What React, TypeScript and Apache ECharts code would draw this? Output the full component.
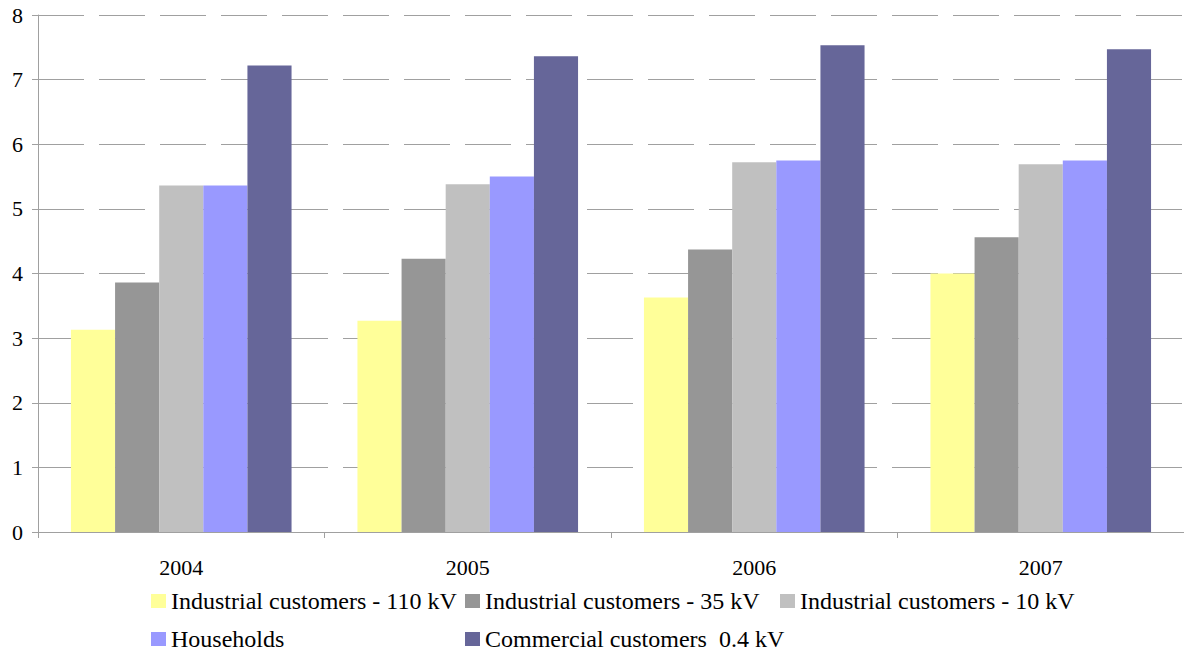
import React, { useEffect, useRef } from "react";
import * as echarts from "echarts";

const years = ["2004", "2005", "2006", "2007"];
const seriesNames = [
  "Industrial customers - 110 kV",
  "Industrial customers - 35 kV",
  "Industrial customers - 10 kV",
  "Households",
  "Commercial customers  0.4 kV",
];
const ind110 = [3.13, 3.27, 3.63, 4.0];
const ind35 = [3.86, 4.23, 4.37, 4.56];
const ind10 = [5.36, 5.38, 5.72, 5.69];
const households = [5.36, 5.5, 5.75, 5.75];
const commercial = [7.22, 7.36, 7.53, 7.47];
const colors = ["#FFFF99", "#969696", "#C0C0C0", "#9999FF", "#666699"];
const yTicks = [0, 1, 2, 3, 4, 5, 6, 7, 8];

const FONT = "Times New Roman, Liberation Serif, DejaVu Serif, serif";

export default function App() {
  const ref = useRef<HTMLDivElement>(null);
  useEffect(() => {
    if (!ref.current) return;
    const chart = echarts.init(ref.current, null, { renderer: "svg" });
    const values = [ind110, ind35, ind10, households, commercial];
    const legendPos = [
      { left: 151, top: 589 },
      { left: 465, top: 589 },
      { left: 780, top: 589 },
      { left: 151, top: 627 },
      { left: 465, top: 627 },
    ];
    chart.setOption({
      animation: false,
      backgroundColor: "#ffffff",
      textStyle: { fontFamily: FONT },
      grid: { left: 38, top: 15, width: 1149, height: 517, containLabel: false },
      legend: seriesNames.map((n, i) => ({
        data: [n],
        left: legendPos[i].left,
        top: legendPos[i].top,
        padding: 0,
        itemWidth: 15,
        itemHeight: 14,
        icon: "rect",
        selectedMode: false,
        textStyle: { fontFamily: FONT, fontSize: 24, color: "#000" },
      })),
      xAxis: {
        type: "category",
        data: years,
        axisLine: { lineStyle: { color: "#a0a0a0", width: 1 } },
        axisTick: { show: true, length: 6, lineStyle: { color: "#a0a0a0" } },
        axisLabel: { margin: 24, fontFamily: FONT, fontSize: 22, color: "#000" },
        splitLine: { show: false },
      },
      yAxis: {
        type: "value",
        min: 0,
        max: 8,
        interval: 1,
        axisLine: { show: true, lineStyle: { color: "#a0a0a0", width: 1 } },
        axisTick: { show: true, length: 6, lineStyle: { color: "#a0a0a0" } },
        axisLabel: {
          margin: 15,
          fontFamily: FONT,
          fontSize: 22,
          color: "#000",
          formatter: (v: number) => (yTicks.includes(v) ? String(v) : ""),
        },
        splitLine: {
          show: true,
          lineStyle: { color: "#a0a0a0", width: 1, type: [46, 15] },
        },
      },
      series: seriesNames.map((n, i) => ({
        name: n,
        type: "bar",
        data: values[i],
        barGap: "0%",
        barCategoryGap: "23%",
        itemStyle: { color: colors[i] },
      })),
    });
    return () => chart.dispose();
  }, []);
  return (
    <div
      ref={ref}
      style={{ position: "fixed", left: 0, top: 0, width: 1184, height: 654, background: "#fff" }}
    />
  );
}
